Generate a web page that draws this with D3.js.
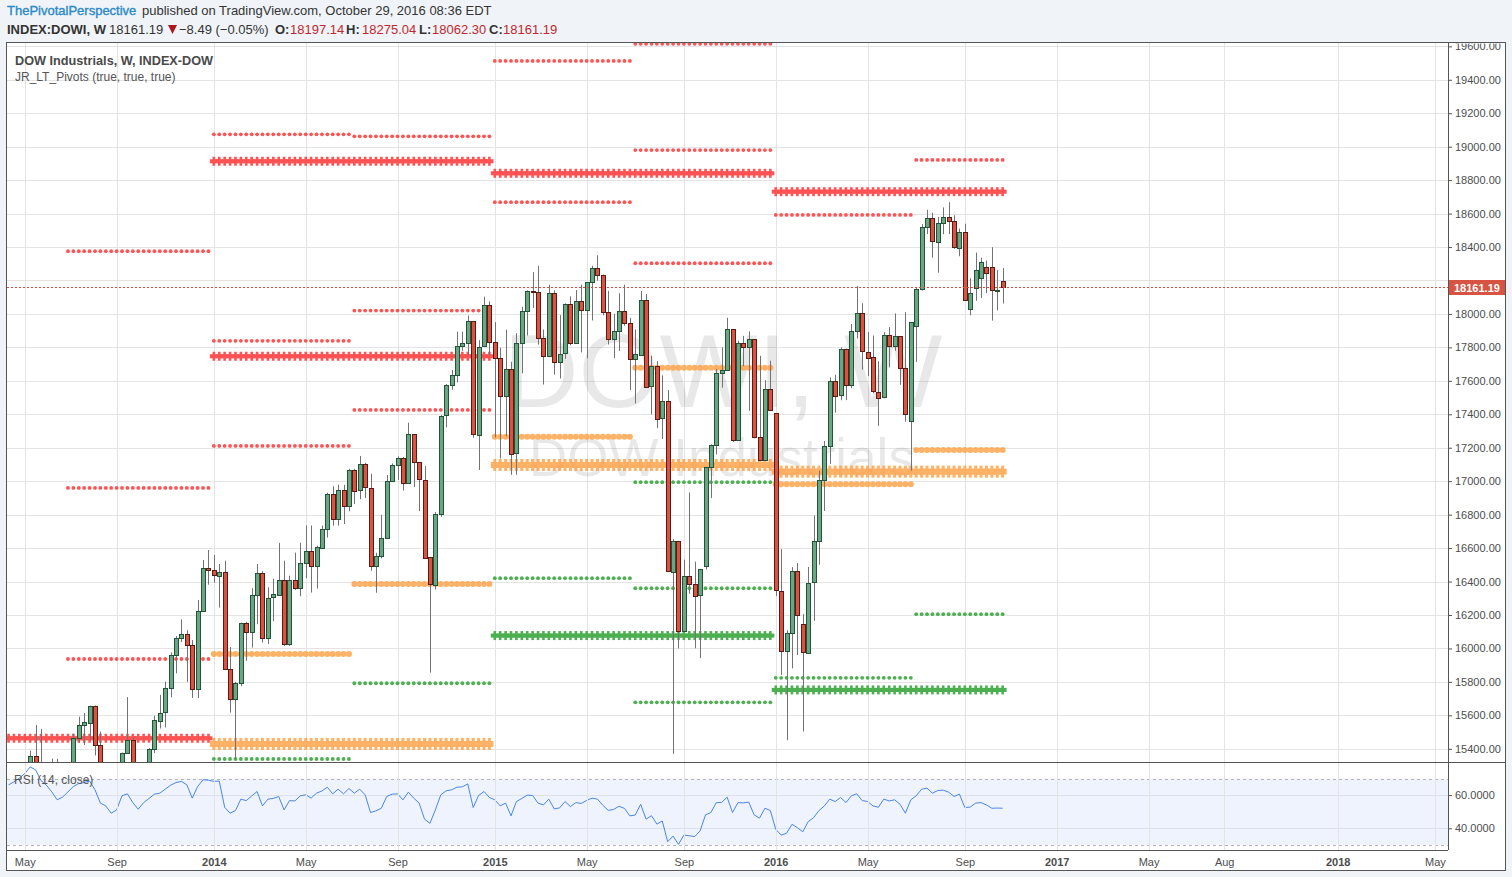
<!DOCTYPE html>
<html><head><meta charset="utf-8">
<script src="https://cdn.jsdelivr.net/npm/d3@7"></script>
<style>
html,body{margin:0;padding:0;background:#f0f3f7;overflow:hidden;}
svg{display:block;font-family:"Liberation Sans",Arial,sans-serif;}
</style></head><body>
<svg id="c" width="1512" height="877"></svg>
<script>
// ---------------- DATA ----------------
const firstWeek = "2013-04-15", lastWeek = "2016-10-24";
const opens = [
14865,14547,14712,14973,15118,15354,15303,15115,15248,15070,14799,14909,15135,15464,15543,15559,15658,15425,15081,15010,14810,14922,15376,15451,15258,15072,15237,15399,15570,15615,15761,15961,16064,16086,16020,15755,16221,16479,
16469,16437,16459,15879,15699,15794,16154,16103,16322,16453,16065,16303,16323,16412,16027,16409,16361,16513,16583,16491,16606,16717,16924,16776,16948,16851,17068,16944,17100,16961,16493,16554,16663,17001,17098,17138,16988,17280,17113,17009,16544,16380,16805,17391,17573,17635,17810,17828,17958,17281,17805,18053,
17833,17737,17512,17673,17165,17825,18019,18140,18133,17857,17750,18128,17713,17763,18058,17826,18080,18025,18191,18273,18232,18011,17849,17899,18016,17947,17730,17760,18086,17568,17690,17373,17477,16460,16643,16102,16433,16385,16315,16495,17084,17216,17647,17664,17910,17245,17824,17798,17848,17265,17128,17552,
17405,16346,15988,16094,16466,16144,15974,16392,16640,17007,17213,17602,17515,17793,17577,17898,18004,17774,17740,17535,17501,17873,17807,17866,17675,17355,17924,18147,18517,18571,18432,18544,18577,18553,18395,18492,18028,18154,18214,18278,18278,18138,18197.14];
const highs = [
14887,14821,14986,15118,15389,15542,15519,15261,15341,15340,15042,15138,15490,15592,15614,15658,15659,15503,15122,15017,15009,15378,15709,15467,15261,15237,15404,15598,15722,15802,15976,16074,16174,16109,16050,16290,16529,16588,
16559,16505,16525,16008,15800,16154,16159,16360,16505,16462,16366,16417,16631,16525,16435,16573,16632,16736,16735,16614,16735,16931,16970,16979,16978,17074,17074,17151,17110,17044,16572,16799,17037,17106,17148,17145,17350,17280,17113,17090,16545,16815,17395,17580,17665,17894,17894,17991,17958,17843,18103,18075,
17951,17798,17906,17714,17885,18043,18141,18250,18288,17907,18174,18141,17993,18063,18105,18143,18175,18191,18288,18351,18235,18138,18000,18124,18175,17977,17907,18137,18120,17750,17717,17633,17545,16654,16643,16531,16933,16519,16473,17085,17220,17670,17800,17977,17910,17840,17869,17896,17848,17750,17604,17720,
17405,16593,16108,16486,16510,16205,16487,16795,17063,17240,17620,17636,17800,17793,17940,18168,18064,17892,17871,17717,17891,17921,18003,17866,18011,17950,18156,18537,18623,18605,18580,18637,18668,18590,18511,18539,18213,18367,18336,18320,18399,18262,18275.04];
const lows = [
14444,14537,14686,14956,15069,15251,15110,14883,14947,14758,14551,14901,15123,15436,15423,15449,15360,15068,14940,14761,14778,14922,15376,15236,14947,14719,15083,15374,15521,15527,15708,15851,16039,15800,15704,15703,16221,16381,
16393,16244,15873,15616,15340,15774,15926,16005,16145,16035,16027,16163,16322,16015,16015,16350,16312,16420,16334,16358,16604,16663,16734,16734,16744,16820,16863,16892,16900,16464,16333,16538,16663,16995,17008,16944,16988,16965,16821,16542,15855,16353,16787,17322,17547,17591,17779,17754,17260,17067,17805,17752,
17262,17136,17268,17038,17038,17645,17871,18036,17817,17578,17748,17637,17614,17732,17813,17826,17770,17735,17961,18199,17992,17817,17736,17779,17929,17545,17465,17760,17562,17399,17317,17252,16459,15370,16000,16102,16327,16001,15942,16472,16900,17160,17559,17664,17234,17245,17688,17421,17256,17128,17128,17421,
16314,15842,15451,15881,15960,15503,15974,16165,16500,16822,17104,17410,17484,17485,17556,17853,17667,17629,17526,17331,17496,17680,17780,17576,17356,17063,17713,18140,18478,18337,18247,18477,18478,18389,18345,18085,17992,18079,18095,18124,17960,18021,18062.30];
const closes = [
14547,14712,14973,15118,15354,15303,15115,15248,15070,14799,14909,15135,15464,15543,15559,15658,15425,15081,15010,14810,14922,15376,15451,15258,15072,15237,15399,15570,15615,15761,15961,16064,16086,16020,15755,16221,16479,16469,
16437,16459,15879,15699,15794,16154,16103,16322,16453,16065,16303,16323,16412,16027,16409,16361,16513,16583,16491,16606,16717,16924,16776,16948,16851,17068,16944,17100,16961,16493,16554,16663,17001,17098,17138,16988,17280,17113,17009,16544,16380,16805,17391,17573,17635,17810,17828,17958,17281,17805,18053,17833,
17737,17512,17673,17165,17825,18019,18140,18133,17857,17750,18128,17713,17763,18058,17826,18080,18025,18191,18273,18232,18011,17849,17899,18016,17947,17730,17760,18086,17568,17690,17373,17477,16460,16643,16102,16433,16385,16315,16472,17084,17216,17647,17664,17910,17245,17824,17798,17848,17265,17128,17552,17425,
16346,15988,16094,16466,16205,15974,16392,16640,17007,17213,17602,17515,17793,17577,17898,18004,17774,17740,17535,17501,17873,17807,17866,17675,17400,17949,18147,18517,18571,18432,18544,18577,18553,18395,18492,18085,18124,18262,18308,18240,18138,18146,18161.19];
const rsiValues = [
66.2,68,70.3,73,77,75.3,68.8,66,62,57.2,58.8,62,65.2,67,67.6,68.5,63.2,55.2,53.5,49.1,51.1,59.6,60.8,55.5,51.5,55.5,58,60.6,61.2,63.6,66,67.6,68.3,66.2,58.2,65.2,69.3,69,
68.3,68.5,52.7,49.1,50.7,57.6,56.7,59.5,62.2,53.5,57.6,58,59.2,51.1,56.7,56.5,59.6,60.2,58.2,61.2,62.5,64.8,60.8,63.6,60.8,64,61.2,63.6,60.2,49.5,50.5,52.1,59.2,60.6,60.8,57.2,61.8,58.2,55.2,45.5,43,51.1,60.2,62.6,63.2,64.8,65,66.8,52.5,59.8,62.2,58.6,
57.2,53.5,55.2,47.5,56.1,58,60,59.8,55.2,54.1,57.6,51.7,52.3,56.1,53.1,55.5,55,56.8,58.2,57.6,53.9,50.8,51.4,53.3,52,47.5,48,54.5,45.5,47.6,42.5,44.4,31.9,35.3,30.3,35.9,35.5,35,38.4,48.1,49.5,55.5,55.6,58.8,49.5,55.5,55.3,55.8,48.1,46.1,52.1,50.7,
39.4,35.9,37,42.4,40.4,37.9,44,46.4,50.7,53.5,57.6,56.1,58.6,55.5,59.6,60.8,56.7,56.2,53.5,52.7,57.6,56.5,57.2,54.5,49.1,57.2,59.6,63.6,64.2,61.2,62.8,63,61.8,59.2,60.6,52.5,52.8,55.2,55.5,54.1,52.1,52.2,52.1];

// pivot levels (period, kind R/P/S, level)
const pivotPeriods = ["2013","2013H2","2013H2","2013H2","2014","2014","2014","2014H1","2014H1","2014H1","2014H1","2014H1","2014H2","2014H2","2014H2","2014H2","2014H2","2015","2015","2015","2015H1","2015H1","2015H1","2015H1","2015H2","2015H2","2015H2","2015H2","2015H2","2015H2","2015H2","2016","2016","2016","2016H1","2016H1","2016H1","2016H2","2016H2","2016H2"];
const pivotKinds   = ["R","R","R","R","R","R","P","R","R","R","P","S","R","R","R","P","S","R","P","S","R","R","P","S","R","R","R","P","S","S","S","R","P","S","R","P","S","R","P","S"];
const pivotLevels  = [15463,18375,16960,15937,18913,17747,15429,19074,17839,17211,15967,15339,19062,18020,17426,16386,15792,18841,17097,16077,19513,18668,17266,16420,19615,18980,18303,17679,16994,16360,15678,18731,17057,15752,18592,16982,15824,18921,17187,16205];

const priceTicks = [15400,15600,15800,16000,16200,16400,16600,16800,17000,17200,17400,17600,17800,18000,18200,18400,18600,18800,19000,19200,19400,19600];
const rsiTicks = [40,60];
const rsiBands = [30,70];
const timeTickDates  = ["2013-05-06","2013-09-02","2014-01-06","2014-05-05","2014-09-01","2015-01-05","2015-05-04","2015-09-07","2016-01-04","2016-05-02","2016-09-05","2017-01-02","2017-05-01","2017-08-07","2018-01-01","2018-05-07"];
const timeTickLabels = ["May","Sep","2014","May","Sep","2015","May","Sep","2016","May","Sep","2017","May","Aug","2018","May"];
const lastClose = 18161.19;

// ---------------- LAYOUT ----------------
const FL=7, FR=1505, FT=43, FB=870, PR=1448, MB=762, RB=850;
const FONT = '"Liberation Sans",Arial,sans-serif';
const parse = d3.timeParse("%Y-%m-%d");
const svg = d3.select("#c");

const dates = d3.timeMonday.range(parse(firstWeek), d3.timeDay.offset(parse(lastWeek),1));
const bars = dates.map((d,i)=>({date:d,o:opens[i],h:highs[i],l:lows[i],c:closes[i],rsi:rsiValues[i]}));

const x = d3.scaleTime().domain([new Date(2013,3,13), new Date(2018,4,24)]).range([FL, PR]);
const y = d3.scaleLinear().domain([15321, 19620]).range([MB, FT]);
const yR = d3.scaleLinear().domain([26.9, 80]).range([RB, MB]);

const defs = svg.append("defs");
defs.append("clipPath").attr("id","mainClip").append("rect").attr("x",FL).attr("y",FT).attr("width",PR-FL).attr("height",MB-FT);
defs.append("clipPath").attr("id","rsiClip").append("rect").attr("x",FL).attr("y",MB).attr("width",PR-FL).attr("height",RB-MB);
defs.append("clipPath").attr("id","axisClip").append("rect").attr("x",PR).attr("y",FT+0.5).attr("width",FR-PR).attr("height",MB-FT);

// frame background
svg.append("rect").attr("x",FL).attr("y",FT).attr("width",FR-FL).attr("height",FB-FT).attr("fill","#ffffff");

// RSI band
const gR = svg.append("g").attr("clip-path","url(#rsiClip)");
gR.append("rect").attr("x",FL).attr("width",PR-FL).attr("y",yR(rsiBands[1])).attr("height",yR(rsiBands[0])-yR(rsiBands[1])).attr("fill","#eef3fd");

// grid
const grid = svg.append("g").attr("stroke","#e4e4e4").attr("stroke-width",1).attr("shape-rendering","crispEdges");
const tDates = timeTickDates.map(parse);
grid.selectAll("line.v").data(tDates).join("line").attr("class","v")
  .attr("x1",d=>Math.round(x(d))+0.5).attr("x2",d=>Math.round(x(d))+0.5).attr("y1",FT).attr("y2",RB);
grid.selectAll("line.h").data(priceTicks).join("line").attr("class","h")
  .attr("x1",FL).attr("x2",PR).attr("y1",d=>Math.round(y(d))+0.5).attr("y2",d=>Math.round(y(d))+0.5);
gR.selectAll("line.rg").data(rsiTicks).join("line").attr("class","rg")
  .attr("x1",FL).attr("x2",PR).attr("y1",d=>Math.round(yR(d))+0.5).attr("y2",d=>Math.round(yR(d))+0.5)
  .attr("stroke","#dde2ea").attr("shape-rendering","crispEdges");
gR.selectAll("line.rb").data(rsiBands).join("line").attr("class","rb")
  .attr("x1",FL).attr("x2",PR).attr("y1",d=>Math.round(yR(d))+0.5).attr("y2",d=>Math.round(yR(d))+0.5)
  .attr("stroke","#b5b5b5").attr("stroke-dasharray","3,3").attr("shape-rendering","crispEdges");

// main pane
const gM = svg.append("g").attr("clip-path","url(#mainClip)");
// watermark
gM.append("text").attr("x",723).attr("y",407).attr("text-anchor","middle").attr("font-size",104)
  .attr("font-family",FONT).attr("fill","#000").attr("fill-opacity",0.09).text("DOWI, W");
gM.append("text").attr("x",722).attr("y",476).attr("text-anchor","middle").attr("font-size",53)
  .attr("font-family",FONT).attr("fill","#000").attr("fill-opacity",0.09).text("DOW Industrials");

// pivots
const kindColor = {R:"#ff5252", P:"#ff9f40", S:"#4caf50"};
function periodRange(p){
  const yr = +p.slice(0,4);
  if (p.endsWith("H1")) return [new Date(yr,0,1), new Date(yr,6,1)];
  if (p.endsWith("H2")) return [new Date(yr,6,1), new Date(yr+1,0,1)];
  return [new Date(yr,0,1), new Date(yr+1,0,1)];
}
const gP = gM.append("g");
pivotLevels.forEach((lvl,i)=>{
  const per = pivotPeriods[i], kind = pivotKinds[i];
  const [s,e] = periodRange(per);
  const pts = bars.filter(b=>b.date>=s && b.date<e);
  const yy = y(lvl);
  const yearly = !per.includes("H");
  const g = gP.append("g").attr("fill",kindColor[kind]).attr("opacity", kind==="P"?0.8:1);
  if (yearly){
    const big = kind==="P";
    const hh = big?6:4, vh = big?12:9, vw = big?3:2.6, hw = 8;
    g.selectAll("rect.hz").data(pts).join("rect").attr("class","hz")
      .attr("x",b=>x(b.date)-hw/2).attr("y",yy-hh/2).attr("width",hw).attr("height",hh);
    g.selectAll("rect.vt").data(pts).join("rect").attr("class","vt")
      .attr("x",b=>x(b.date)-vw/2).attr("y",yy-vh/2).attr("width",vw).attr("height",vh);
  } else {
    const r = kind==="P"?3:1.9;
    g.selectAll("circle").data(pts).join("circle").attr("cx",b=>x(b.date)).attr("cy",yy).attr("r",r);
  }
});

// candles
const gC = gM.append("g");
const cg = gC.selectAll("g.c").data(bars).join("g").attr("class","c");
cg.append("line")
  .attr("x1",d=>Math.round(x(d.date))+0.5).attr("x2",d=>Math.round(x(d.date))+0.5)
  .attr("y1",d=>y(d.h)).attr("y2",d=>y(d.l)).attr("stroke","#737375").attr("stroke-width",1);
cg.append("rect")
  .attr("x",d=>Math.round(x(d.date))-1.5).attr("width",4)
  .attr("y",d=>Math.round(y(Math.max(d.o,d.c)))+0.5)
  .attr("height",d=>Math.max(1,Math.round(Math.abs(y(d.o)-y(d.c)))))
  .attr("fill",d=>d.c>=d.o?"#6ba583":"#d75442")
  .attr("stroke",d=>d.c>=d.o?"#225437":"#5b1a13").attr("stroke-width",1);

// last price line
gM.append("line").attr("x1",FL).attr("x2",PR).attr("y1",Math.round(y(lastClose))+0.5).attr("y2",Math.round(y(lastClose))+0.5)
  .attr("stroke","#e8483c").attr("stroke-dasharray","2,2").attr("stroke-width",1);

// RSI line
gR.append("path").datum(bars).attr("fill","none").attr("stroke","#4a86e8").attr("stroke-width",1)
  .attr("d",d3.line().x(d=>x(d.date)).y(d=>yR(d.rsi)));

// legends
svg.append("text").attr("x",15).attr("y",65).attr("font-family",FONT).attr("font-size",12.7).attr("font-weight","bold")
  .attr("fill","#4a4a4a").text("DOW Industrials, W, INDEX-DOW");
svg.append("text").attr("x",15).attr("y",81).attr("font-family",FONT).attr("font-size",12)
  .attr("fill","#555").text("JR_LT_Pivots (true, true, true)");
svg.append("text").attr("x",14).attr("y",784).attr("font-family",FONT).attr("font-size",12)
  .attr("fill","#555").text("RSI (14, close)");

// axes
function styleAxis(g){
  g.attr("font-family",FONT).attr("font-size",11);
  g.select(".domain").remove();
  g.selectAll("text").attr("fill","#4d4d4d");
  g.selectAll(".tick line").attr("stroke","#555");
}
const yl = Math.round(y(lastClose));
const yaWrap = svg.append("g").attr("clip-path","url(#axisClip)");
const ya = yaWrap.append("g").attr("transform",`translate(${PR},0)`)
  .call(d3.axisRight(y).tickValues(priceTicks).tickFormat(d3.format(".2f")).tickSize(4).tickPadding(3));
styleAxis(ya);
// the tick label sitting under the last-price tag is covered by it
ya.selectAll(".tick").filter(d=>Math.abs(y(d)-yl)<12).select("text").remove();
const yra = svg.append("g").attr("transform",`translate(${PR},0)`)
  .call(d3.axisRight(yR).tickValues(rsiTicks).tickFormat(d3.format(".4f")).tickSize(4).tickPadding(3));
styleAxis(yra);
const xa = svg.append("g").attr("transform",`translate(0,${RB})`)
  .call(d3.axisBottom(x).tickValues(tDates).tickFormat((d,i)=>timeTickLabels[i]).tickSize(0).tickPadding(8));
styleAxis(xa);
xa.selectAll("text").attr("font-weight",(d,i)=>/^\d{4}$/.test(timeTickLabels[i])?"bold":"normal");

// frame lines
const fr = svg.append("g").attr("stroke","#555").attr("stroke-width",1).attr("fill","none").attr("shape-rendering","crispEdges");
fr.append("rect").attr("x",FL-0.5).attr("y",FT-0.5).attr("width",FR-FL+1).attr("height",FB-FT+1);
fr.append("line").attr("x1",PR+0.5).attr("x2",PR+0.5).attr("y1",FT).attr("y2",RB);
fr.append("line").attr("x1",FL).attr("x2",FR).attr("y1",MB+0.5).attr("y2",MB+0.5);
fr.append("line").attr("x1",FL).attr("x2",PR).attr("y1",RB+0.5).attr("y2",RB+0.5);

// last price box
svg.append("rect").attr("x",PR+1).attr("y",yl-7).attr("width",FR-PR-1).attr("height",15).attr("fill","#d75442");
svg.append("text").attr("x",PR+6).attr("y",yl+4.5).attr("font-family",FONT).attr("font-size",11).attr("font-weight","bold")
  .attr("fill","#fff").text(d3.format(".2f")(lastClose));

// header
const h1 = svg.append("text").attr("x",7).attr("y",15).attr("font-family",FONT).attr("font-size",13);
h1.append("tspan").attr("fill","#2a89c8").attr("stroke","#2a89c8").attr("stroke-width",0.35).text("ThePivotalPerspective");
h1.append("tspan").attr("fill","#333").attr("x",142).text("published on TradingView.com, October 29, 2016 08:36 EDT");
const h2 = svg.append("text").attr("y",34).attr("font-family",FONT).attr("font-size",13).attr("fill","#333");
const red = "#c0282d";
const parts = [
  {x:7, t:"INDEX:DOWI, W", b:true},
  {x:109, t:"18161.19"},
  {x:179, t:"\u22128.49 (\u22120.05%)"},
  {x:275, t:"O:", b:true},{x:290, t:"18197.14", r:true},
  {x:346, t:"H:", b:true},{x:362, t:"18275.04", r:true},
  {x:419, t:"L:", b:true},{x:432, t:"18062.30", r:true},
  {x:489, t:"C:", b:true},{x:503, t:"18161.19", r:true}
];
parts.forEach(p=>{
  h2.append("tspan").attr("x",p.x).attr("font-weight",p.b?"bold":"normal").attr("fill",p.r?red:"#333").text(p.t);
});
svg.append("path").attr("d","M168,25 L177,25 L172.5,34 Z").attr("fill","#a8181c");
</script>
</body></html>
